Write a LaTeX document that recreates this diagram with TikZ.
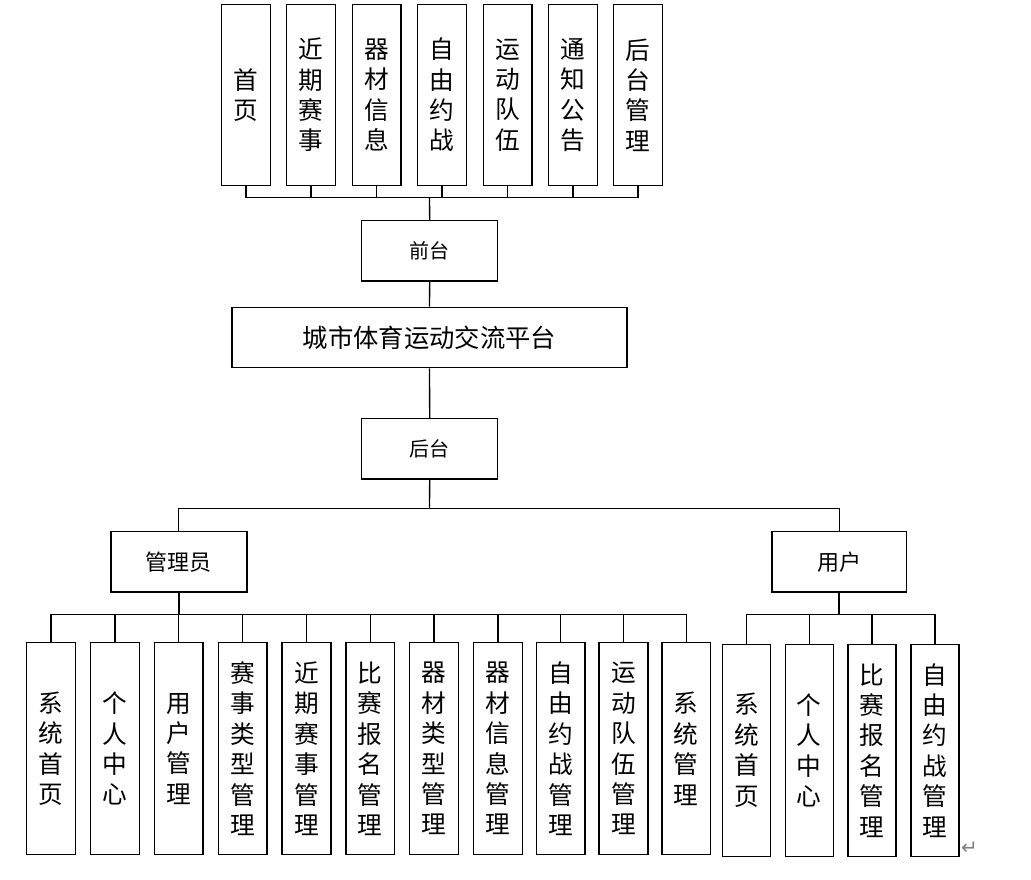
\documentclass[tikz,border=0pt]{standalone}
\usepackage{fontspec}
\newfontfamily\cjk{Noto Sans CJK SC}
\newfontfamily\djv{DejaVu Sans}
\begin{document}
\begin{tikzpicture}[x=0.75pt,y=-0.75pt,
  box/.style={draw=black,line width=1.1pt,fill=white,inner sep=0pt,align=center,
    font=\cjk\fontsize{18.5}{22.8}\selectfont},
  tallbox/.style={box,minimum width=36.4pt,minimum height=136pt},
  lowbox/.style={box,minimum width=36.5pt,minimum height=159pt},
  midbox/.style={box,minimum width=102pt,minimum height=45.3pt,font=\cjk\fontsize{15}{18}\selectfont},
  rolebox/.style={box,minimum width=102pt,minimum height=45.5pt,font=\cjk\fontsize{16.5}{20}\selectfont},
  conn/.style={draw=black,line width=1pt}]
\useasboundingbox (0,0) rectangle (1031,879);
% top row
\node[tallbox] (t1) at (246,95) {首\\页};
\node[tallbox] (t2) at (311,95) {近\\期\\赛\\事};
\node[tallbox] (t3) at (376.5,95) {器\\材\\信\\息};
\node[tallbox] (t4) at (442,95) {自\\由\\约\\战};
\node[tallbox] (t5) at (507.5,95) {运\\动\\队\\伍};
\node[tallbox] (t6) at (573,95) {通\\知\\公\\告};
\node[tallbox] (t7) at (638,95) {后\\台\\管\\理};
% middle
\node[midbox] (qt) at (429.7,250.8) {前台};
\node[box,minimum width=296.25pt,minimum height=45.3pt,font=\cjk\fontsize{19}{22}\selectfont] (main) at (429.5,337.5) {城市体育运动交流平台};
\node[midbox] (ht) at (429.7,448.8) {后台};
\node[rolebox] (adm) at (178.8,561.7) {管理员};
\node[rolebox,minimum width=101pt] (usr) at (839.3,561.7) {用户};
% admin children
\node[lowbox] (a1) at (51,748.7) {系\\统\\首\\页};
\node[lowbox] (a2) at (115,748.7) {个\\人\\中\\心};
\node[lowbox] (a3) at (178.7,748.7) {用\\户\\管\\理};
\node[lowbox] (a4) at (242.7,748.7) {赛\\事\\类\\型\\管\\理};
\node[lowbox] (a5) at (306.5,748.7) {近\\期\\赛\\事\\管\\理};
\node[lowbox] (a6) at (370.3,748.7) {比\\赛\\报\\名\\管\\理};
\node[lowbox] (a7) at (434,748.7) {器\\材\\类\\型\\管\\理};
\node[lowbox] (a8) at (498,748.7) {器\\材\\信\\息\\管\\理};
\node[lowbox] (a9) at (560.8,748.7) {自\\由\\约\\战\\管\\理};
\node[lowbox] (a10) at (623.5,748.7) {运\\动\\队\\伍\\管\\理};
\node[lowbox] (a11) at (686.3,748.7) {系\\统\\管\\理};
% user children
\node[lowbox,minimum width=36pt] (u1) at (746.7,750.3) {系\\统\\首\\页};
\node[lowbox,minimum width=36pt] (u2) at (809.3,750.3) {个\\人\\中\\心};
\node[lowbox,minimum width=36pt] (u3) at (872,750.3) {比\\赛\\报\\名\\管\\理};
\node[lowbox,minimum width=36pt] (u4) at (935,750.3) {自\\由\\约\\战\\管\\理};
\node[text=gray,font=\djv\fontsize{15}{17}\selectfont,inner sep=0pt] (ret) at (969.5,848.5) {↵};
% connectors
\coordinate (bt) at (429.5,197.3);
\foreach \i in {1,...,7} \draw[conn] (t\i.south) |- (bt);
\draw[conn] (bt) -- (qt.north);
\draw[conn] (qt.south) -- (main.north);
\draw[conn] (main.south) -- (ht.north);
\coordinate (bm) at (429.5,508.7);
\draw[conn] (ht.south) -- (bm);
\draw[conn] (adm.north) |- (bm) -| (usr.north);
\coordinate (ba) at (178.8,614.7);
\draw[conn,line width=1.3pt] (adm.south) -- (ba);
\foreach \i in {1,...,11} \draw[conn] (a\i.north) |- (ba);
\coordinate (bu) at (839.3,614.7);
\draw[conn,line width=1.3pt] (usr.south) -- (bu);
\foreach \i in {1,...,4} \draw[conn] (u\i.north) |- (bu);
\end{tikzpicture}
\end{document}
